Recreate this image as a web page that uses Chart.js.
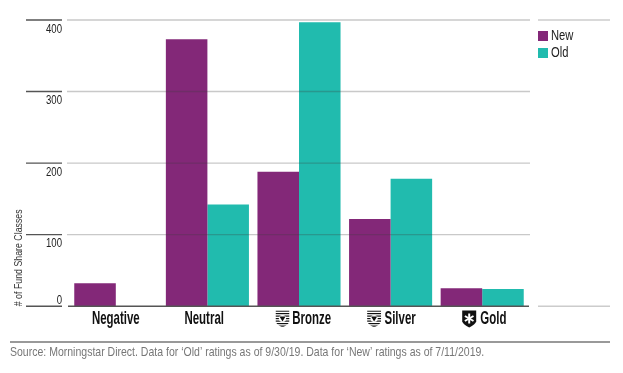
<!DOCTYPE html>
<html lang="en">
<head>
<meta charset="UTF-8">
<title>Fund Share Classes by Rating</title>
<script src="https://cdn.jsdelivr.net/npm/chart.js@4"></script>
<style>
    html, body { margin: 0; padding: 0; background: #fff; }
    #wrap { width: 623px; height: 373px; }
</style>
</head>
<body>
<div id="wrap"><canvas id="myChart"></canvas></div>
<script>
const categories = ["Negative", "Neutral", "Bronze", "Silver", "Gold"];
const newValues = [32, 373, 188, 122, 25];
const oldValues = [0, 142, 397, 178, 24];
const yTicks = [0, 100, 200, 300, 400];
const seriesNames = ["New", "Old"];
const leadSpaces = [0, 0, 8, 6, 7];
const trailSpaces = [0, 2, 0, 0, 0];
const iconShift = [0, 0, -16.5, -16.5, -13];
const sans = '"Liberation Sans", sans-serif';

// shield next to the medal ratings
function drawShield(ctx, x, y, name) {
    ctx.save();
    ctx.translate(x, y);
    ctx.beginPath();
    ctx.moveTo(-7, -8);
    ctx.lineTo(7, -8);
    ctx.lineTo(7, 3);
    ctx.quadraticCurveTo(6, 6, 0, 9);
    ctx.quadraticCurveTo(-6, 6, -7, 3);
    ctx.closePath();
    if (name === "Gold") {
        ctx.fillStyle = "#111";
        ctx.fill();
        ctx.strokeStyle = "#fff";
        ctx.lineWidth = 2;
        for (let i = 0; i < 3; i++) {
            const a = i * Math.PI / 3 + Math.PI / 2;
            ctx.beginPath();
            ctx.moveTo(-5 * Math.cos(a), -5 * Math.sin(a));
            ctx.lineTo(5 * Math.cos(a), 5 * Math.sin(a));
            ctx.stroke();
        }
    } else {
        ctx.clip();
        ctx.fillStyle = "#111";
        for (let r = -8; r < 9; r += 2.5) {
            ctx.fillRect(-7, r, 14, 1.2);
        }
        ctx.fillStyle = "#fff";
        ctx.beginPath();
        ctx.arc(0, 0, 3.6, 0, Math.PI * 2);
        ctx.fill();
        ctx.fillStyle = "#111";
        ctx.beginPath();
        ctx.moveTo(-3, -2);
        ctx.lineTo(3, -2);
        ctx.lineTo(0, 3);
        ctx.closePath();
        ctx.fill();
    }
    ctx.restore();
}

function line(ctx, x1, x2, y, color, width) {
    ctx.strokeStyle = color;
    ctx.lineWidth = width;
    ctx.beginPath();
    ctx.moveTo(x1, y);
    ctx.lineTo(x2, y);
    ctx.stroke();
}

const extras = {
    id: "extras",
    beforeInit(chart) {
        // no condensed face is installed, so squeeze the text sideways
        const ctx = chart.ctx;
        const fillText = ctx.fillText;
        ctx.fillText = function (text, x, y) {
            const k = ctx.font.includes("bold") ? 0.62 : 0.8;
            ctx.save();
            ctx.translate(seriesNames.includes(text) ? x - 4 : x, y);
            ctx.scale(k, 1);
            fillText.call(ctx, text, 0, 0);
            ctx.restore();
        };
    },
    beforeLayout(chart) {
        const legend = chart.legend;
        if (!legend.patched) {
            const fit = legend.fit;
            legend.fit = function () {
                fit.call(this);
                this.width = 82;
            };
            legend.patched = true;
        }
    },
    afterLayout(chart) {
        chart.legend.left += 7;
        chart.legend.top += 6;
    },
    afterDraw(chart) {
        const ctx = chart.ctx;
        const y = chart.scales.y;
        const x = chart.scales.x;
        ctx.save();
        yTicks.forEach((v) => {
            const py = y.getPixelForValue(v);
            line(ctx, 26, 62, py, "#555", 1.4);
            ctx.fillStyle = "#222";
            ctx.font = "12px " + sans;
            ctx.textAlign = "right";
            ctx.textBaseline = "middle";
            ctx.fillText(String(v), 62, v === 0 ? py - 6 : py + 9.5);
            if (v === 0) {
                line(ctx, 68, 529, py, "#555", 1.4);
            } else {
                line(ctx, 67, 530, py, "rgba(60,60,60,0.28)", 1.4);
            }
            // only top and bottom carry on under the legend
            if (v === 0 || v === 400) {
                line(ctx, 538, 610, py, "#ccc", 1.4);
            }
        });
        // rule above the source note
        line(ctx, 10, 610, 342, "#777", 1.6);
        // rating icons
        categories.forEach((c, i) => {
            if (iconShift[i]) {
                drawShield(ctx, x.getPixelForTick(i) + iconShift[i], 318.5, c);
            }
        });
        ctx.restore();
    }
};

new Chart(document.getElementById("myChart"), {
    type: "bar",
    data: {
        labels: categories,
        datasets: [
            { label: seriesNames[0], data: newValues, backgroundColor: "#832878" },
            { label: seriesNames[1], data: oldValues, backgroundColor: "#21bbae" }
        ]
    },
    options: {
        responsive: true,
        maintainAspectRatio: false,
        animation: false,
        layout: { padding: { left: 10, right: 13, top: 20, bottom: 0 } },
        datasets: { bar: { categoryPercentage: 0.907, barPercentage: 1 } },
        scales: {
            x: {
                grid: { display: false, drawTicks: false },
                border: { display: false },
                afterFit(scale) { scale.height = 36; },
                ticks: {
                    padding: 2,
                    maxRotation: 0,
                    autoSkip: false,
                    color: "#111",
                    font: { family: sans, size: 18.5, weight: "bold" },
                    callback(value) {
                        return " ".repeat(leadSpaces[value]) + categories[value] + " ".repeat(trailSpaces[value]);
                    }
                }
            },
            y: {
                min: 0,
                max: 400,
                afterFit(scale) { scale.width = 60; },
                afterBuildTicks(scale) { scale.ticks = yTicks.map((v) => ({ value: v })); },
                border: { display: false },
                grid: { display: false },
                ticks: { display: false },
                title: {
                    display: true,
                    text: "# of Fund Share Classes",
                    align: "start",
                    color: "#333",
                    padding: { top: 2, bottom: 0 },
                    font: { family: sans, size: 11 }
                }
            }
        },
        plugins: {
            tooltip: { enabled: false },
            legend: {
                position: "right",
                align: "start",
                labels: {
                    boxWidth: 10,
                    boxHeight: 10,
                    padding: 3,
                    color: "#222",
                    font: { family: sans, size: 14 }
                }
            },
            title: {
                display: true,
                position: "bottom",
                align: "start",
                text: "Source: Morningstar Direct. Data for ‘Old’ ratings as of 9/30/19. Data for ‘New’ ratings as of 7/11/2019.",
                color: "#777",
                padding: { top: 2, bottom: 13 },
                font: { family: sans, size: 13.15, weight: "normal" }
            }
        }
    },
    plugins: [extras]
});
</script>
</body>
</html>
